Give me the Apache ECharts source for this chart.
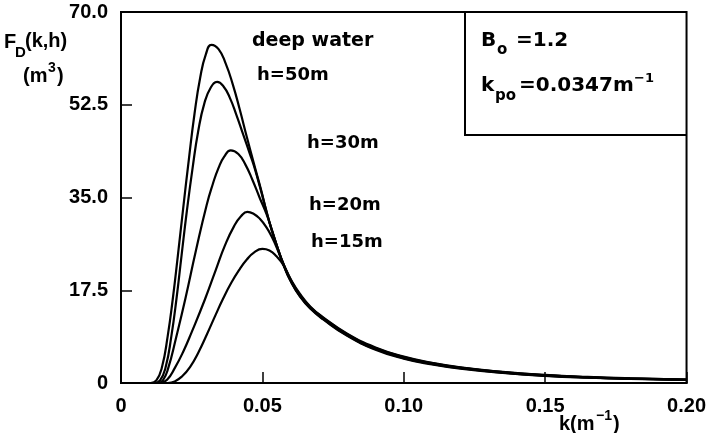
<!DOCTYPE html>
<html>
<head>
<meta charset="utf-8">
<script src="https://cdn.jsdelivr.net/npm/echarts@6/dist/echarts.min.js"></script>
<style>
html,body{margin:0;padding:0;background:#fff;}
#chart{width:709px;height:433px;}
</style>
</head>
<body>
<div id="chart"></div>
<script>
// ---- data ----
const xTickLabels = ['0', '0.05', '0.10', '0.15', '0.20'];
const yTickLabels = ['0', '17.5', '35.0', '52.5', '70.0'];
const curveNames = ['deep water', 'h=50m', 'h=30m', 'h=20m', 'h=15m'];

const deepWater = [[0.0105,0],[0.0125,0.5],[0.0145,3.0],[0.0165,8.8],[0.0183,15.8],[0.0201,24.0],[0.0220,33.0],[0.0240,42.2],[0.0260,50.8],[0.0280,57.6],[0.0300,62.0],[0.0320,63.8],[0.0345,63.0],[0.0370,60.3],[0.0395,56.4],[0.0420,51.6],[0.0445,46.4],[0.0470,41.4],[0.0495,36.5],[0.0515,32.3],[0.0533,28.9],[0.0555,25.2],[0.0575,22.2],[0.0600,19.2],[0.0633,16.3],[0.0670,14.0],[0.0715,12.0],[0.080,8.9],[0.090,6.3],[0.100,4.6],[0.110,3.5],[0.120,2.7],[0.135,1.9],[0.150,1.35],[0.165,1.0],[0.180,0.78],[0.200,0.57]];
const h50 = [[0.0118,0],[0.0138,0.5],[0.0158,3.0],[0.0178,8.8],[0.0196,15.8],[0.0214,24.0],[0.0233,32.5],[0.0253,40.5],[0.0273,47.5],[0.0295,52.8],[0.0318,55.8],[0.0340,56.8],[0.0362,56.0],[0.0385,53.8],[0.0408,50.6],[0.0432,46.9],[0.0456,43.2],[0.0470,41.0],[0.0495,36.3],[0.0515,32.2],[0.0533,28.9],[0.0555,25.3],[0.0575,22.3],[0.0600,19.3],[0.0633,16.4],[0.0670,14.1],[0.0715,12.1],[0.080,9.0],[0.090,6.4],[0.100,4.7],[0.110,3.6],[0.120,2.78],[0.135,1.95],[0.150,1.4],[0.165,1.04],[0.180,0.8],[0.200,0.59]];
const h30 = [[0.0130,0],[0.0148,0.5],[0.0167,2.8],[0.0195,8.6],[0.0228,16.0],[0.0265,25.0],[0.0303,33.6],[0.0325,37.6],[0.0345,40.6],[0.0365,42.7],[0.0388,43.9],[0.0415,43.2],[0.0440,41.2],[0.0465,38.3],[0.0490,35.0],[0.0515,31.8],[0.0535,28.6],[0.0555,25.3],[0.0575,22.4],[0.0600,19.4],[0.0633,16.5],[0.0670,14.2],[0.0715,12.2],[0.080,9.1],[0.090,6.5],[0.100,4.8],[0.110,3.68],[0.120,2.85],[0.135,2.0],[0.150,1.44],[0.165,1.08],[0.180,0.83],[0.200,0.61]];
const h20 = [[0.0140,0],[0.0163,0.6],[0.0191,2.9],[0.0220,5.9],[0.0250,9.6],[0.0297,15.8],[0.0335,21.3],[0.0368,26.0],[0.0400,29.6],[0.0425,31.5],[0.0447,32.3],[0.0470,31.9],[0.0491,31.0],[0.0515,29.3],[0.0535,27.4],[0.0555,25.0],[0.0575,22.4],[0.0600,19.5],[0.0633,16.6],[0.0670,14.3],[0.0715,12.3],[0.080,9.2],[0.090,6.6],[0.100,4.9],[0.110,3.75],[0.120,2.9],[0.135,2.05],[0.150,1.48],[0.165,1.11],[0.180,0.86],[0.200,0.63]];
const h15 = [[0.0165,0],[0.0190,0.3],[0.0215,1.2],[0.0244,3.0],[0.0275,5.9],[0.0304,9.2],[0.0335,12.9],[0.0360,15.8],[0.0390,18.9],[0.0420,21.5],[0.0445,23.3],[0.0470,24.6],[0.0500,25.3],[0.0525,25.0],[0.0550,23.9],[0.0575,22.2],[0.0600,19.6],[0.0633,16.8],[0.0670,14.4],[0.0715,12.4],[0.080,9.3],[0.090,6.7],[0.100,5.0],[0.110,3.82],[0.120,2.95],[0.135,2.1],[0.150,1.52],[0.165,1.14],[0.180,0.88],[0.200,0.65]];

const LAB = 'Liberation Sans';
const DJV = 'DejaVu Sans';
const chart = echarts.init(document.getElementById('chart'), null, {renderer: 'canvas'});

function txt(x, y, s, size, fam) {
  return {
    type: 'text', x: x, y: y,
    style: {text: s, fill: '#000', font: 'bold ' + size + 'px "' + (fam || LAB) + '"', align: 'left', verticalAlign: 'middle'}
  };
}

const allSeries = [deepWater, h50, h30, h20, h15].map((d, i) => ({
  name: curveNames[i],
  type: 'line',
  data: d,
  smooth: 0.5,
  showSymbol: false,
  symbol: 'none',
  lineStyle: {color: '#000', width: 2.2},
  z: 3
}));

chart.setOption({
  animation: false,
  backgroundColor: '#fff',
  grid: {left: 121, top: 12, right: 22, bottom: 50, show: true, borderColor: '#000', borderWidth: 2, backgroundColor: 'transparent'},
  xAxis: {
    type: 'value', min: 0, max: 0.2, interval: 0.05,
    axisLine: {show: true, lineStyle: {color: '#000', width: 2}},
    axisTick: {show: true, inside: true, length: 11, lineStyle: {color: '#000', width: 1.5}},
    splitLine: {show: false},
    axisLabel: {
      margin: 13, color: '#000', fontFamily: LAB, fontWeight: 'bold', fontSize: 20,
      formatter: v => xTickLabels[Math.round(v / 0.05)]
    }
  },
  yAxis: {
    type: 'value', min: 0, max: 70, interval: 17.5,
    axisLine: {show: true, lineStyle: {color: '#000', width: 2}},
    axisTick: {show: true, inside: true, length: 11, lineStyle: {color: '#000', width: 1.5}},
    splitLine: {show: false},
    axisLabel: {
      margin: 13, color: '#000', fontFamily: LAB, fontWeight: 'bold', fontSize: 20,
      formatter: v => yTickLabels[Math.round(v / 17.5)]
    }
  },
  series: allSeries,
  graphic: [
    // parameter box
    {type: 'polyline', shape: {points: [[465, 12], [465, 135], [687, 135]]}, style: {stroke: '#000', lineWidth: 2, fill: null}},
    // y axis name
    txt(4, 42, 'F', 20),
    txt(15, 53, 'D', 15),
    txt(25, 41, '(k,h)', 20),
    txt(23, 76, '(m', 20),
    txt(48, 68, '3', 14),
    txt(57, 76, ')', 20),
    // x axis name
    txt(559, 424, 'k(m', 20),
    txt(596, 416, '−1', 14),
    txt(613, 424, ')', 20),
    // curve labels
    txt(252, 41, curveNames[0], 19, DJV),
    txt(257, 75, curveNames[1], 18, DJV),
    txt(307, 143, curveNames[2], 18, DJV),
    txt(309, 205, curveNames[3], 18, DJV),
    txt(311, 242, curveNames[4], 18, DJV),
    // box text
    txt(481, 41, 'B', 20, DJV),
    txt(497, 50, 'o', 15, DJV),
    txt(516, 41, '=1.2', 20, DJV),
    txt(481, 86, 'k', 20, DJV),
    txt(495, 96, 'po', 15, DJV),
    txt(519, 86, '=0.0347m', 20, DJV),
    txt(634, 79, '−1', 13, DJV)
  ]
});
</script>
</body>
</html>
